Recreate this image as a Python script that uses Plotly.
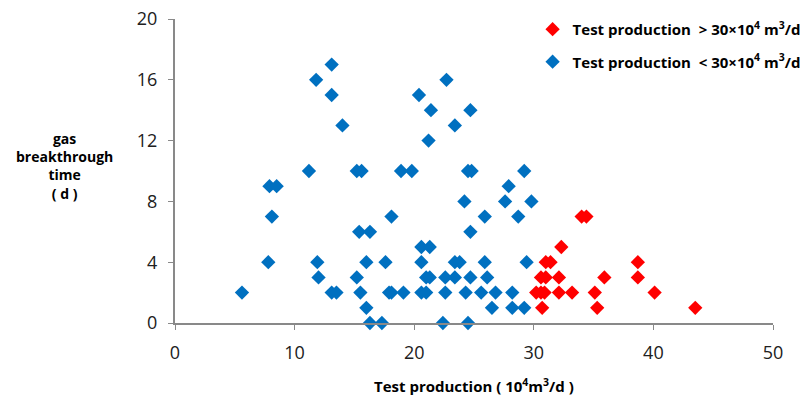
import plotly.graph_objects as go

# Wells with test production above 30×10^4 m3/d
high_prod = [34.0, 34.4, 32.3, 31.0, 31.4, 38.7, 30.6, 31.0, 32.1, 35.9, 38.7,
             30.2, 30.6, 30.9, 32.1, 33.2, 35.1, 40.1, 30.7, 35.3, 43.5]
high_time = [7, 7, 5, 4, 4, 4, 3, 3, 3, 3, 3,
             2, 2, 2, 2, 2, 2, 2, 1, 1, 1]

# Wells with test production below 30×10^4 m3/d
low_prod = [5.6, 7.8, 7.9, 8.5, 8.1, 11.2, 11.8, 11.9, 12.0, 13.1, 13.1, 13.1,
            13.5, 14.0, 15.2, 15.6, 15.4, 16.3, 16.0, 15.2, 15.5, 16.0, 16.3, 17.3,
            17.6, 17.9, 18.1, 18.1, 18.9, 19.8, 19.1, 20.4, 21.4, 21.2, 20.6, 21.3,
            20.6, 21.0, 21.3, 20.6, 21.0, 22.7, 22.6, 22.6, 22.4, 23.4, 23.4, 23.8,
            23.4, 24.7, 24.5, 24.8, 24.2, 24.7, 24.7, 24.3, 24.5, 25.9, 25.9, 26.1,
            25.6, 26.8, 26.5, 27.9, 27.6, 28.7, 28.2, 28.2, 29.2, 29.8, 29.4, 29.2]
low_time = [2, 4, 9, 9, 7, 10, 16, 4, 3, 17, 15, 2,
            2, 13, 10, 10, 6, 6, 4, 3, 2, 1, 0, 0,
            4, 2, 2, 7, 10, 10, 2, 15, 14, 12, 5, 5,
            4, 3, 3, 2, 2, 16, 3, 2, 0, 13, 4, 4,
            3, 14, 10, 10, 8, 6, 3, 2, 0, 7, 4, 3,
            2, 2, 1, 9, 8, 7, 2, 1, 10, 8, 4, 1]

x_ticks = [0, 10, 20, 30, 40, 50]
y_ticks = [0, 4, 8, 12, 16, 20]

FONT = "Open Sans, Noto Sans, sans-serif"
AXIS_GREY = "#898989"

fig = go.Figure()
fig.add_trace(go.Scatter(
    x=high_prod, y=high_time, mode="markers",
    name="<b>Test production  > 30×10<sup>4</sup> m<sup>3</sup>/d</b>",
    legendgroup="high",
    marker=dict(symbol="diamond", size=11, color="#FF0000"),
    cliponaxis=False,
))
fig.add_trace(go.Scatter(
    x=low_prod, y=low_time, mode="markers",
    name="<b>Test production  < 30×10<sup>4</sup> m<sup>3</sup>/d</b>",
    legendgroup="low",
    marker=dict(symbol="diamond", size=11, color="#0070C0"),
    cliponaxis=False,
))

fig.update_layout(
    width=803, height=396,
    margin=dict(l=175, r=30, t=19, b=73, autoexpand=False),
    paper_bgcolor="white", plot_bgcolor="white",
    font=dict(family=FONT, color="#202020"),
    showlegend=True,
    legend=dict(
        x=0.598, y=1.02, xanchor="left", yanchor="top",
        font=dict(size=15, color="#000000"),
        traceorder="grouped", tracegroupgap=10,
        bgcolor="rgba(0,0,0,0)",
    ),
    xaxis=dict(
        range=[0, 50], tickvals=x_ticks, ticktext=[str(v) for v in x_ticks],
        showgrid=False, zeroline=False, showline=True, automargin=False,
        linecolor=AXIS_GREY, linewidth=2,
        ticks="outside", ticklen=5, tickcolor=AXIS_GREY, tickwidth=1,
        ticklabelstandoff=7,
        tickfont=dict(size=18, color="#202020"),
    ),
    yaxis=dict(
        range=[0, 20], tickvals=y_ticks, ticktext=[str(v) for v in y_ticks],
        showgrid=False, zeroline=False, showline=True, automargin=False,
        linecolor=AXIS_GREY, linewidth=2,
        ticks="outside", ticklen=5, tickcolor=AXIS_GREY, tickwidth=1,
        ticklabelstandoff=7,
        tickfont=dict(size=18, color="#202020"),
    ),
    annotations=[
        dict(
            text="<b>Test production ( 10<sup>4</sup>m<sup>3</sup>/d )</b>",
            xref="paper", yref="paper", x=0.5, y=-0.205,
            xanchor="center", yanchor="middle", showarrow=False,
            font=dict(size=15, color="#000000"),
        ),
        dict(
            text="<b>gas<br>breakthrough<br>time<br>( d )</b>",
            xref="paper", yref="paper", x=-0.184, y=0.515,
            xanchor="center", yanchor="middle", showarrow=False,
            align="center", font=dict(size=14, color="#000000"),
        ),
    ],
)

fig.write_html("out.html")
